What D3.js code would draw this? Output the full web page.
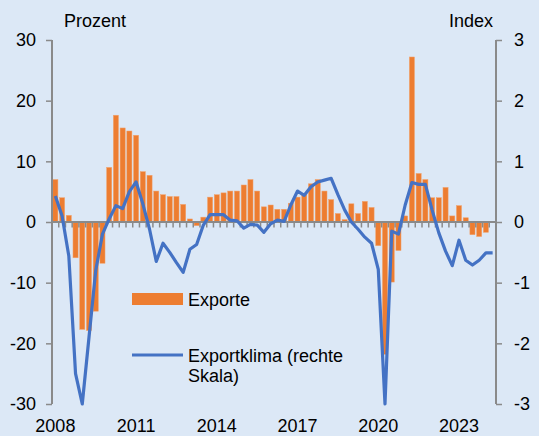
<!DOCTYPE html>
<html>
<head>
<meta charset="utf-8">
<script src="https://cdn.jsdelivr.net/npm/d3@7"></script>
<style>
  body { margin: 0; background: #dce8f6; }
  svg { display: block; font-family: "Liberation Sans", Arial, sans-serif; }
</style>
</head>
<body>
<div id="chart"></div>
<script>
// quarters 2008Q1 .. 2024Q2
const years = d3.range(2008, 2025);
const quarters = years.flatMap(y => ['Q1', 'Q2', 'Q3', 'Q4'].map(q => y + q)).slice(0, 66);

// Exporte, % ggü. Vorjahr (left axis); 2024Q2 not yet available
const exporte = [
    7.0, 4.0, 1.1, -5.9,
    -17.7, -17.9, -14.7, -6.8,
    9.0, 17.6, 15.5, 15.0,
    14.3, 8.3, 7.7, 5.1,
    4.5, 4.2, 4.2, 2.9,
    0.5, -0.6, 0.8, 4.1,
    4.5, 4.8, 5.1, 5.1,
    6.1, 7.0, 5.1, 2.5,
    2.8, 2.1, 2.1, 3.1,
    4.1, 4.5, 6.3, 7.0,
    5.1, 3.7, 1.4, 0.4,
    3.0, 1.4, 3.4, 2.4,
    -3.9, -21.8, -9.9, -4.7,
    1.0, 27.2, 8.0, 7.0,
    4.0, 4.0, 5.7, 1.0,
    2.7, 0.7, -2.1, -2.4,
    -1.7, null
];

// Exportklima, Index (right axis)
const exportklima = [
    0.43, 0.1, -0.56, -2.5,
    -3.0, -1.9, -0.8, -0.2,
    0.05, 0.27, 0.22, 0.5,
    0.66, 0.3, -0.12, -0.65,
    -0.35, -0.5, -0.67, -0.83,
    -0.45, -0.37, -0.05, 0.12,
    0.12, 0.12, 0.03, 0.02,
    -0.1, -0.04, -0.05, -0.17,
    -0.03, 0.03, 0.01, 0.28,
    0.51, 0.44, 0.58, 0.66,
    0.69, 0.72, 0.45, 0.2,
    0.0, -0.12, -0.25, -0.35,
    -0.78, -3.0, -0.15, -0.2,
    0.28, 0.65, 0.62, 0.62,
    0.2, -0.18, -0.48, -0.72,
    -0.3, -0.63, -0.71, -0.63,
    -0.51, -0.51
];

const leftTicks = [-30, -20, -10, 0, 10, 20, 30];
const rightTicks = [-3, -2, -1, 0, 1, 2, 3];
const yearLabels = ['2008', '2011', '2014', '2017', '2020', '2023'];

const W = 539, H = 436;
const margin = { top: 40, right: 43, bottom: 32, left: 52 };
const grey = '#8a8a8a';

const svg = d3.select('#chart').append('svg')
    .attr('width', W)
    .attr('height', H);

const x = d3.scaleBand().domain(quarters).range([margin.left, W - margin.right]);
const yL = d3.scaleLinear().domain([-30, 30]).range([H - margin.bottom, margin.top]);
const yR = d3.scaleLinear().domain([-3, 3]).range([H - margin.bottom, margin.top]);
const bw = x.bandwidth();

/* Bars */
svg.append('g').selectAll('rect')
    .data(quarters.map((q, i) => ({ q, v: exporte[i] })).filter(d => d.v != null))
    .join('rect')
    .attr('x', d => x(d.q) + bw * 0.12)
    .attr('width', bw * 0.76)
    .attr('y', d => yL(Math.max(0, d.v)))
    .attr('height', d => Math.abs(yL(d.v) - yL(0)))
    .attr('fill', '#ed7d31')
    .attr('stroke', '#f2a36e')
    .attr('stroke-width', 0.5);

/* x axis along zero line, ticks between categories */
const xAx = svg.append('g');
xAx.append('line')
    .attr('x1', margin.left).attr('x2', W - margin.right)
    .attr('y1', yL(0)).attr('y2', yL(0))
    .attr('stroke', grey).attr('stroke-width', 2);
xAx.selectAll('.qtick')
    .data(quarters.slice(1))
    .join('line')
    .attr('class', 'qtick')
    .attr('x1', d => x(d)).attr('x2', d => x(d))
    .attr('y1', yL(0)).attr('y2', yL(0) + 5.5)
    .attr('stroke', grey).attr('stroke-width', 1.5);

/* year labels at the bottom */
const yearAxis = svg.append('g')
    .attr('transform', `translate(0,${H - margin.bottom})`)
    .call(d3.axisBottom(x)
        .tickValues(yearLabels.map(y => y + 'Q1'))
        .tickFormat(d => d.slice(0, 4))
        .tickSize(0)
        .tickPadding(15))
    .attr('font-family', null)
    .attr('font-size', 18);
yearAxis.select('.domain').remove();
yearAxis.selectAll('text').attr('fill', '#000');

/* Line */
const line = d3.line()
    .x((d, i) => x(quarters[i]) + bw / 2)
    .y(d => yR(d));
svg.append('path')
    .datum(exportklima)
    .attr('d', line)
    .attr('fill', 'none')
    .attr('stroke', '#4472c4')
    .attr('stroke-width', 3.2)
    .attr('stroke-linejoin', 'round');

/* Left axis */
const left = svg.append('g')
    .attr('transform', `translate(${margin.left},0)`)
    .call(d3.axisLeft(yL).tickValues(leftTicks).tickFormat(d => String(d)).tickSize(6).tickPadding(10));
/* Right axis */
const right = svg.append('g')
    .attr('transform', `translate(${W - margin.right},0)`)
    .call(d3.axisRight(yR).tickValues(rightTicks).tickFormat(d => String(d)).tickSize(6).tickPadding(12));

[left, right].forEach(ax => {
    ax.attr('font-family', null).attr('font-size', 18);
    ax.select('.domain').attr('stroke', grey).attr('stroke-width', 2).attr('d',
        ax === left ? `M0,${yL(-30)}V${yL(30)}` : `M0,${yR(-3)}V${yR(3)}`);
    ax.selectAll('.tick line').attr('stroke', grey).attr('stroke-width', 1.5);
    ax.selectAll('.tick text').attr('fill', '#000');
});

/* Axis titles */
svg.append('text').attr('x', 64).attr('y', 27).attr('font-size', 18).text('Prozent');
svg.append('text').attr('x', 493).attr('y', 27).attr('font-size', 18)
    .attr('text-anchor', 'end').text('Index');

/* Legend */
const legend = svg.append('g');
legend.append('rect')
    .attr('x', 132).attr('y', 293).attr('width', 51).attr('height', 12)
    .attr('fill', '#ed7d31');
legend.append('text').attr('x', 188).attr('y', 305.5).attr('font-size', 18).text('Exporte');
legend.append('line')
    .attr('x1', 132).attr('x2', 183).attr('y1', 355).attr('y2', 355)
    .attr('stroke', '#4472c4').attr('stroke-width', 3.2);
legend.append('text').attr('x', 188).attr('y', 361.5).attr('font-size', 18).text('Exportklima (rechte');
legend.append('text').attr('x', 188).attr('y', 382).attr('font-size', 18).text('Skala)');
</script>
</body>
</html>
